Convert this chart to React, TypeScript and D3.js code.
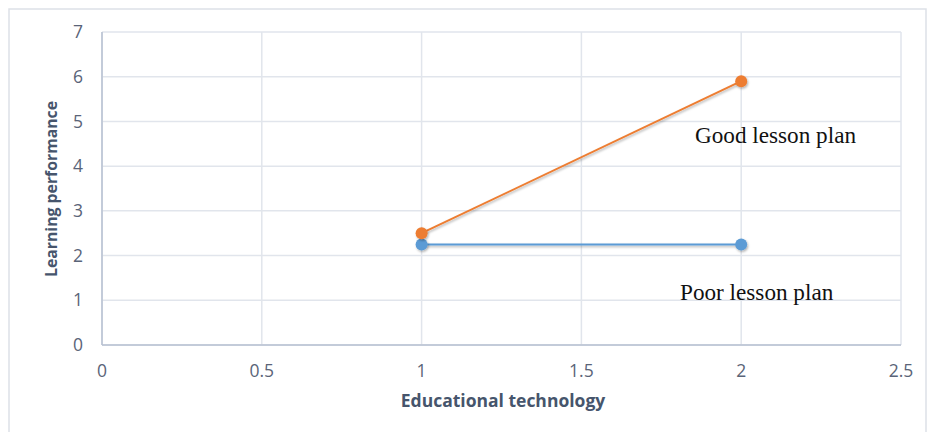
import React from "react";
import * as d3 from "d3";

const xTicks = [0, 0.5, 1, 1.5, 2, 2.5];
const yTicks = [0, 1, 2, 3, 4, 5, 6, 7];
const goodX = [1, 2];
const goodY = [2.5, 5.9];
const poorX = [1, 2];
const poorY = [2.25, 2.25];
const seriesLabels = ["Good lesson plan", "Poor lesson plan"];
const xTitle = "Educational technology";
const yTitle = "Learning performance";

export default function App() {
  const W = 927, H = 432;
  const x = d3.scaleLinear().domain([0, 2.5]).range([102, 901]);
  const y = d3.scaleLinear().domain([0, 7]).range([345, 32]);
  const line = d3.line<[number, number]>().x(d => x(d[0])).y(d => y(d[1]));
  const good: [number, number][] = goodX.map((v, i) => [v, goodY[i]]);
  const poor: [number, number][] = poorX.map((v, i) => [v, poorY[i]]);
  const grid = "#e1e5ec";
  const axis = "#b7c0d1";
  const tickColor = "#5a6478";
  const titleColor = "#46556c";
  const font = "'Open Sans', 'Liberation Sans', sans-serif";
  const serif = "'Liberation Serif', 'Times New Roman', serif";
  return (
    <svg width={W} height={H} style={{ position: "absolute", left: 0, top: 0 }}>
      <defs>
        <filter id="sh" filterUnits="userSpaceOnUse" x={0} y={0} width={W} height={H}>
          <feDropShadow dx="1" dy="1.5" stdDeviation="1" floodColor="#000" floodOpacity="0.3" />
        </filter>
      </defs>
      <rect x={0} y={0} width={W} height={H} fill="#fff" />
      <rect x={9} y={9} width={917} height={440} fill="none" stroke="#dde1e7" strokeWidth={1.5} />
      {yTicks.map(t => (
        <line key={"gy" + t} x1={x(0)} x2={x(2.5)} y1={y(t)} y2={y(t)} stroke={grid} strokeWidth={1.5} />
      ))}
      {xTicks.map(t => (
        <line key={"gx" + t} x1={x(t)} x2={x(t)} y1={y(0)} y2={y(7)} stroke={grid} strokeWidth={1.5} />
      ))}
      <line x1={x(0)} x2={x(0)} y1={y(0)} y2={y(7)} stroke={axis} strokeWidth={1.5} />
      <line x1={x(0)} x2={x(2.5)} y1={y(0)} y2={y(0)} stroke={axis} strokeWidth={1.5} />
      {yTicks.map(t => (
        <text key={"ty" + t} x={83} y={y(t)} dy="0.35em" textAnchor="end" fontFamily={font} fontSize={17.5} fill={tickColor}>{t}</text>
      ))}
      {xTicks.map(t => (
        <text key={"tx" + t} x={x(t)} y={371} dy="0.35em" textAnchor="middle" fontFamily={font} fontSize={17.5} fill={tickColor}>{t}</text>
      ))}
      <text x={503} y={401} dy="0.35em" textAnchor="middle" fontFamily={font} fontWeight="bold" fontSize={17.5} fill={titleColor}>{xTitle}</text>
      <text transform={`translate(51,189) rotate(-90)`} dy="0.35em" textAnchor="middle" fontFamily={font} fontWeight="bold" fontSize={15.8} fill={titleColor}>{yTitle}</text>
      <path d={line(poor) || ""} fill="none" stroke="#5b9bd5" strokeWidth={2} filter="url(#sh)" />
      <path d={line(good) || ""} fill="none" stroke="#ed7d31" strokeWidth={2} filter="url(#sh)" />
      {poor.map((d, i) => (
        <circle key={"pp" + i} cx={x(d[0])} cy={y(d[1])} r={6} fill="#5b9bd5" filter="url(#sh)" />
      ))}
      {good.map((d, i) => (
        <circle key={"gp" + i} cx={x(d[0])} cy={y(d[1])} r={6} fill="#ed7d31" filter="url(#sh)" />
      ))}
      <text x={695} y={143} fontFamily={serif} fontSize={23.2} fill="#111">{seriesLabels[0]}</text>
      <text x={680} y={300} fontFamily={serif} fontSize={23.2} fill="#111">{seriesLabels[1]}</text>
    </svg>
  );
}
